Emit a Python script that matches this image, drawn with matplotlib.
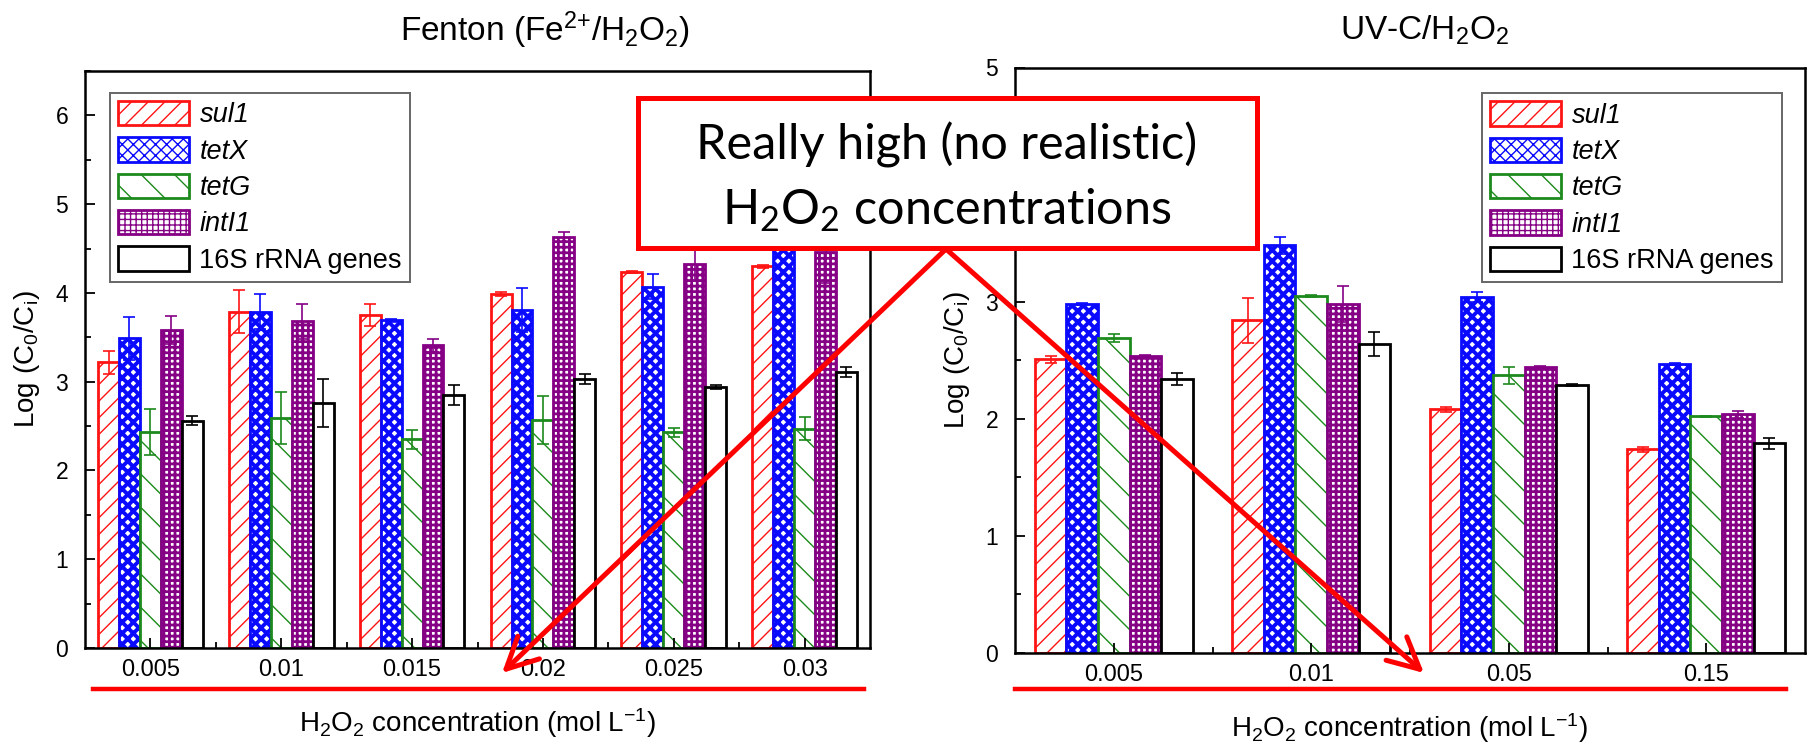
import matplotlib
matplotlib.use('Agg')
import matplotlib.pyplot as plt
import numpy as np
from matplotlib.patches import Rectangle, FancyArrowPatch
from matplotlib.lines import Line2D
from matplotlib.ticker import MultipleLocator, FixedLocator

plt.rcParams['font.family'] = ['Liberation Sans', 'DejaVu Sans']

# data
genes = ['sul1', 'tetX', 'tetG', 'intI1', '16S rRNA genes']

fenton_cats = ['0.005', '0.01', '0.015', '0.02', '0.025', '0.03']
fenton_sul1 = [3.22, 3.79, 3.75, 3.99, 4.24, 4.30]
fenton_tetX = [3.49, 3.79, 3.69, 3.81, 4.07, 4.70]
fenton_tetG = [2.43, 2.59, 2.35, 2.57, 2.43, 2.47]
fenton_intI1 = [3.58, 3.68, 3.41, 4.63, 4.33, 4.46]
fenton_16S = [2.56, 2.76, 2.85, 3.03, 2.94, 3.11]
fenton_sul1_err = [0.13, 0.24, 0.12, 0.02, 0.01, 0.02]
fenton_tetX_err = [0.24, 0.20, 0.02, 0.25, 0.14, 0.10]
fenton_tetG_err = [0.26, 0.29, 0.11, 0.27, 0.05, 0.13]
fenton_intI1_err = [0.16, 0.20, 0.07, 0.06, 0.20, 0.35]
fenton_16S_err = [0.05, 0.27, 0.11, 0.06, 0.02, 0.06]

uvc_cats = ['0.005', '0.01', '0.05', '0.15']
uvc_sul1 = [2.51, 2.84, 2.08, 1.74]
uvc_tetX = [2.98, 3.48, 3.04, 2.47]
uvc_tetG = [2.69, 3.05, 2.37, 2.02]
uvc_intI1 = [2.54, 2.98, 2.44, 2.04]
uvc_16S = [2.34, 2.64, 2.29, 1.79]
uvc_sul1_err = [0.03, 0.19, 0.02, 0.02]
uvc_tetX_err = [0.01, 0.07, 0.04, 0.01]
uvc_tetG_err = [0.03, 0.01, 0.07, 0.005]
uvc_intI1_err = [0.005, 0.15, 0.01, 0.03]
uvc_16S_err = [0.05, 0.10, 0.01, 0.05]

colors = ['#ff1414', '#0a0aff', '#1c8a1c', '#850085', '#000000']
hatches = ['//', 'xxx', '\\', '+++', '']
hatch_lw = [1.0, 2.8, 1.0, 2.0, 1.0]

W, H = 1810, 746
fig = plt.figure(figsize=(W / 100, H / 100), dpi=100)


def fx(px):
    return px / W


def fy(py):
    return 1 - py / H


def draw_panel(ax, cats, vals, errs, ymax):
    x = np.arange(len(cats))
    w = 0.16
    for i in range(5):
        with plt.rc_context({'hatch.linewidth': hatch_lw[i]}):
            ax.bar(x + (i - 2) * w, vals[i], w, facecolor='white', edgecolor=colors[i],
                   hatch=hatches[i], linewidth=2.0, label=genes[i], yerr=errs[i],
                   error_kw=dict(ecolor=colors[i], elinewidth=1.2, capsize=4, capthick=1.2))
    ax.set_xlim(-0.5, len(cats) - 0.5)
    ax.set_ylim(0, ymax)
    ax.set_xticks(x)
    ax.set_xticklabels(cats, fontsize=17)
    ax.xaxis.set_minor_locator(FixedLocator(x[:-1] + 0.5))
    ax.yaxis.set_major_locator(MultipleLocator(1))
    ax.yaxis.set_minor_locator(MultipleLocator(0.5))
    ax.tick_params(which='both', direction='in', top=False, right=False, width=1.3)
    ax.tick_params(which='major', length=7, pad=8)
    ax.tick_params(which='minor', length=4)
    ax.tick_params(axis='y', labelsize=16.5, pad=12)
    for s in ax.spines.values():
        s.set_linewidth(1.8)
    ax.set_xlabel(r'H$\mathregular{_2}$O$\mathregular{_2}$ concentration (mol L$\mathregular{^{-1}}$)',
                  fontsize=20, labelpad=18)
    ax.set_ylabel(r'Log (C$\mathregular{_0}$/C$\mathregular{_i}$)', fontsize=20, labelpad=10)


ax1 = fig.add_axes([fx(85), fy(648), (870 - 85) / W, (648 - 71) / H])
draw_panel(ax1, fenton_cats,
           [fenton_sul1, fenton_tetX, fenton_tetG, fenton_intI1, fenton_16S],
           [fenton_sul1_err, fenton_tetX_err, fenton_tetG_err, fenton_intI1_err, fenton_16S_err], 6.5)

ax2 = fig.add_axes([fx(1015), fy(653), (1805 - 1015) / W, (653 - 67.5) / H])
draw_panel(ax2, uvc_cats,
           [uvc_sul1, uvc_tetX, uvc_tetG, uvc_intI1, uvc_16S],
           [uvc_sul1_err, uvc_tetX_err, uvc_tetG_err, uvc_intI1_err, uvc_16S_err], 5)

for ax, loc, anchor in [(ax1, 'upper left', (0.032, 0.962)), (ax2, 'upper right', (0.971, 0.956))]:
    leg = ax.legend(loc=loc, bbox_to_anchor=anchor, borderaxespad=0, fontsize=19.5,
                    handlelength=2.6, handleheight=1.0, labelspacing=0.33, handletextpad=0.4,
                    fancybox=False, edgecolor='#666666', framealpha=1, borderpad=0.3)
    leg.get_frame().set_linewidth(1.4)
    for t in leg.get_texts()[:4]:
        t.set_style('italic')

fig.text(fx(545), fy(30), r'Fenton (Fe$\mathregular{^{2{+}}}$/H$\mathregular{_2}$O$\mathregular{_2}$)',
         fontsize=24, ha='center', va='center')
fig.text(fx(1425), fy(30), r'UV-C/H$\mathregular{_2}$O$\mathregular{_2}$',
         fontsize=24, ha='center', va='center')

# red call-out box, arrows and underlines
fig.add_artist(Rectangle((fx(638), fy(248)), (1257 - 638) / W, 150 / H, transform=fig.transFigure,
                         facecolor='white', edgecolor='red', linewidth=3.6, zorder=10))
fig.text(fx(947), fy(160), 'Really high (no realistic)', fontsize=35, family='Lato',
         ha='center', va='baseline', zorder=11)
fig.text(fx(947), fy(225), r'H$\mathregular{_2}$O$\mathregular{_2}$ concentrations', fontsize=35,
         family='Lato', ha='center', va='baseline', zorder=11)

for end_x in [502, 1424]:
    fig.add_artist(FancyArrowPatch((fx(946), fy(249)), (fx(end_x), fy(673)), transform=fig.transFigure,
                                   arrowstyle='->,head_length=0.9,head_width=0.45', mutation_scale=25,
                                   color='red', lw=3.6, shrinkA=0, shrinkB=0, zorder=9))

for x0, x1 in [(93, 864), (1015, 1786)]:
    fig.add_artist(Line2D([fx(x0), fx(x1)], [fy(689), fy(689)], transform=fig.transFigure,
                          color='red', lw=3.2, zorder=9))

fig.savefig('out.png', dpi=100)
